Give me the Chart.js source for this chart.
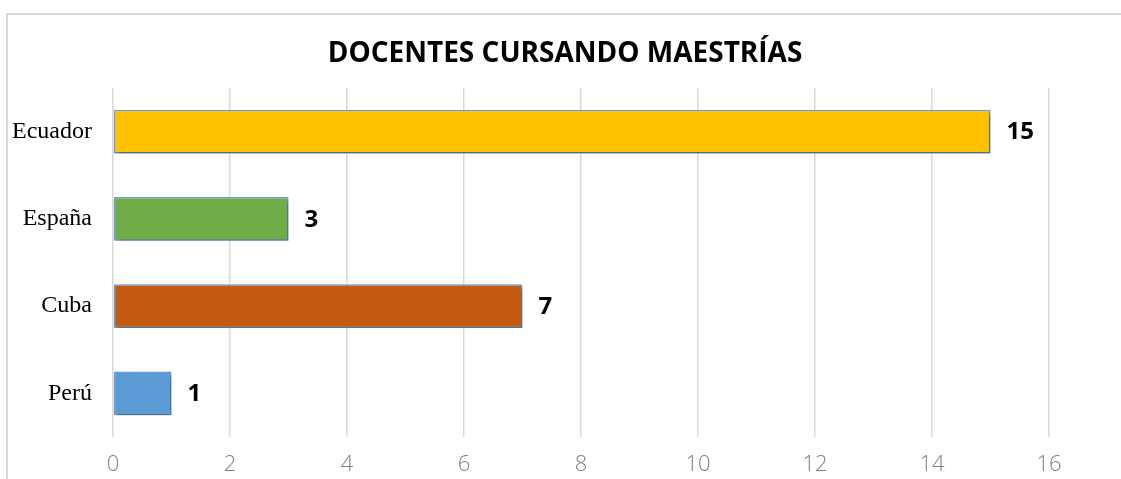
<!DOCTYPE html>
<html>
<head>
<meta charset="utf-8">
<script src="https://cdn.jsdelivr.net/npm/chart.js@4"></script>
<style>
  html, body { margin: 0; padding: 0; background: #fff; }
  #wrap { width: 1121px; height: 479px; }
</style>
</head>
<body>
<div id="wrap"><canvas id="myChart" width="1121" height="479"></canvas></div>
<script>
const titleText = "DOCENTES CURSANDO MAESTRÍAS";
const categories = ["Ecuador", "España", "Cuba", "Perú"];
const values = [15, 3, 7, 1];
const barColors = ["#FFC000", "#70AD47", "#C55A11", "#5B9BD5"];
const axisMin = 0;
const axisMax = 16;
const axisStep = 2;

// frame, title centred on the frame, bar shadow and value labels
const decorations = {
  id: "decorations",
  beforeDraw(chart) {
    const c = chart.ctx;
    c.save();
    c.strokeStyle = "#D9D9D9";
    c.lineWidth = 2;
    c.strokeRect(7, 14, 1200, 600);
    c.font = "bold 28px 'Open Sans', sans-serif";
    c.fillStyle = "#000";
    c.textAlign = "center";
    c.textBaseline = "middle";
    c.fillText(titleText, 565, 54);
    c.restore();
  },
  beforeDatasetsDraw(chart) {
    const c = chart.ctx;
    c.save();
    c.shadowColor = "rgba(0,0,0,0.35)";
    c.shadowBlur = 4;
    c.shadowOffsetX = 2;
    c.shadowOffsetY = 3;
  },
  afterDatasetsDraw(chart) {
    const c = chart.ctx;
    c.restore();
    const meta = chart.getDatasetMeta(0);
    c.save();
    c.font = "bold 24px 'Open Sans', sans-serif";
    c.fillStyle = "#000";
    c.textAlign = "left";
    c.textBaseline = "middle";
    meta.data.forEach((bar, i) => {
      c.fillText(String(values[i]), bar.x + 16, bar.y + 1);
    });
    c.restore();
  }
};

const ctx = document.getElementById("myChart");

new Chart(ctx, {
  type: "bar",
  data: {
    labels: categories,
    datasets: [
      {
        data: values,
        backgroundColor: barColors,
        borderColor: "#6A9FD6",
        borderWidth: 1.5,
        borderSkipped: false,
        barPercentage: 0.5,
        categoryPercentage: 1
      }
    ]
  },
  plugins: [decorations],
  options: {
    indexAxis: "y",
    responsive: false,
    animation: false,
    layout: { padding: { left: 0, right: 72, top: 88, bottom: 0 } },
    plugins: {
      legend: { display: false },
      tooltip: { enabled: false },
      title: { display: false }
    },
    scales: {
      x: {
        min: axisMin,
        max: axisMax,
        ticks: {
          stepSize: axisStep,
          color: "#808080",
          padding: 15,
          font: { family: "'Open Sans', sans-serif", size: 22, weight: "300" }
        },
        grid: { color: "#D9D9D9", lineWidth: 1.5, drawTicks: false },
        border: { display: false },
        afterFit(scale) { scale.height = 42; }
      },
      y: {
        ticks: {
          color: "#000",
          padding: 21,
          font: { family: "'Liberation Serif', serif", size: 24 }
        },
        grid: { display: false, drawTicks: false },
        border: { display: false },
        afterFit(scale) { scale.width = 113; }
      }
    }
  }
});
</script>
</body>
</html>
